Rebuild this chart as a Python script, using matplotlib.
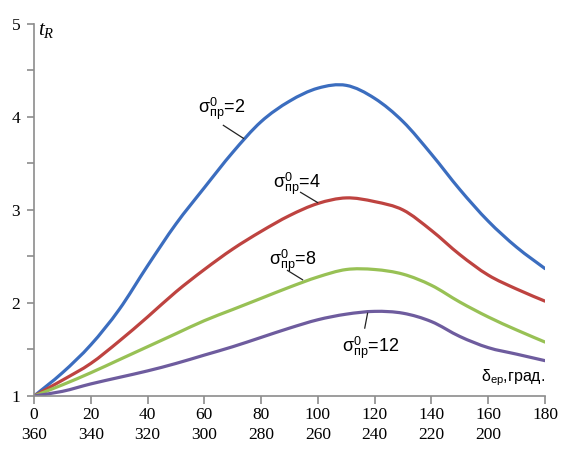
import matplotlib
matplotlib.use("Agg")
import matplotlib.pyplot as plt
from matplotlib.ticker import MultipleLocator
from matplotlib.path import Path
from matplotlib.patches import PathPatch

angle = [0, 10, 20, 30, 40, 50, 60, 70, 80, 90, 100, 110, 120, 130, 140, 150, 160, 170, 180]
t_sigma2 = [1.00, 1.25, 1.55, 1.93, 2.40, 2.85, 3.24, 3.62, 3.95, 4.17, 4.31, 4.34, 4.20, 3.95, 3.60, 3.22, 2.88, 2.60, 2.37]
t_sigma4 = [1.00, 1.17, 1.35, 1.59, 1.85, 2.12, 2.36, 2.58, 2.77, 2.94, 3.07, 3.13, 3.09, 3.00, 2.78, 2.52, 2.30, 2.15, 2.02]
t_sigma8 = [1.00, 1.12, 1.25, 1.39, 1.53, 1.67, 1.81, 1.93, 2.05, 2.17, 2.28, 2.36, 2.36, 2.31, 2.19, 2.01, 1.85, 1.71, 1.58]
t_sigma12 = [1.00, 1.05, 1.13, 1.20, 1.27, 1.35, 1.44, 1.53, 1.63, 1.73, 1.82, 1.88, 1.91, 1.89, 1.80, 1.64, 1.52, 1.45, 1.38]

xticks = [0, 20, 40, 60, 80, 100, 120, 140, 160, 180]
xlabels_top = ["0", "20", "40", "60", "80", "100", "120", "140", "160", "180"]
xlabels_bottom = ["360", "340", "320", "300", "280", "260", "240", "220", "200", ""]
yticks = [1, 2, 3, 4, 5]

plt.rcParams['mathtext.fontset'] = 'custom'
plt.rcParams['mathtext.rm'] = 'Liberation Sans'
plt.rcParams['mathtext.it'] = 'Liberation Serif:italic'

fig = plt.figure(figsize=(5.68, 4.50), dpi=100)
ax = fig.add_axes([0.0599, 0.12, 0.8996, 0.8267])


def smooth_path(xs, ys):
    """Excel-style smoothed line: cubic Bezier segments through the data points."""
    n = len(xs)
    verts = [(xs[0], ys[0])]
    codes = [Path.MOVETO]
    for i in range(n - 1):
        x0, y0 = xs[max(i - 1, 0)], ys[max(i - 1, 0)]
        x1, y1 = xs[i], ys[i]
        x2, y2 = xs[i + 1], ys[i + 1]
        x3, y3 = xs[min(i + 2, n - 1)], ys[min(i + 2, n - 1)]
        c1 = (x1 + (x2 - x0) / 6.0, y1 + (y2 - y0) / 6.0)
        c2 = (x2 - (x3 - x1) / 6.0, y2 - (y3 - y1) / 6.0)
        verts += [c1, c2, (x2, y2)]
        codes += [Path.CURVE4] * 3
    return Path(verts, codes)


colors = ["#3B6DBF", "#BE4340", "#98C155", "#6E5C9E"]
for ys, c in zip([t_sigma2, t_sigma4, t_sigma8, t_sigma12], colors):
    patch = PathPatch(smooth_path(angle, ys), facecolor='none', edgecolor=c, lw=2.3,
                      capstyle='round', joinstyle='round', transform=ax.transData)
    ax.add_patch(patch)

ax.set_xlim(0, 180)
ax.set_ylim(1, 5)
for s in ['top', 'right']:
    ax.spines[s].set_visible(False)
for s in ['left', 'bottom']:
    ax.spines[s].set_color('#8C8C8C')
    ax.spines[s].set_linewidth(1.2)

ax.set_xticks(xticks)
labels = [a + ("\n" + b if b else "") for a, b in zip(xlabels_top, xlabels_bottom)]
ax.set_xticklabels(labels, family='Liberation Serif', fontsize=12.5, linespacing=1.35)
ax.set_yticks(yticks)
ax.set_yticklabels([str(v) for v in yticks], family='Liberation Serif', fontsize=12.5)
ax.yaxis.set_minor_locator(MultipleLocator(0.5))
ax.tick_params(axis='both', which='both', direction='out', color='#8C8C8C', width=1.2)
ax.tick_params(axis='x', which='major', length=6, pad=2)
ax.tick_params(axis='y', which='both', length=5, pad=5)

# axis labels
ax.text(0.008, 0.985, r'$t_R$', transform=ax.transAxes, fontsize=15, va='center', ha='left')
ax.text(1.0, 0.05, r'$\mathrm{δ}_{\mathrm{ер}}$,град.', transform=ax.transAxes,
        fontsize=11.5, ha='right', va='center', family='Liberation Sans')

# curve labels with leader lines
lbls = [
    (r'$\mathrm{σ}^{0}_{\mathrm{пр}}$=2', 66.0, 4.08, (66.7, 73.8), (3.91, 3.77)),
    (r'$\mathrm{σ}^{0}_{\mathrm{пр}}$=4', 92.5, 3.28, (93.9, 99.9), (3.19, 3.08)),
    (r'$\mathrm{σ}^{0}_{\mathrm{пр}}$=8', 91.0, 2.45, (89.3, 94.6), (2.35, 2.25)),
    (r'$\mathrm{σ}^{0}_{\mathrm{пр}}$=12', 118.5, 1.51, (117.5, 116.5), (1.89, 1.73)),
]
for txt, tx, ty, lx, ly in lbls:
    ax.text(tx, ty, txt, fontsize=13, ha='center', va='center', family='Liberation Sans')
    ax.plot(lx, ly, color='#222222', lw=0.9)

fig.savefig("out.png", dpi=100)
